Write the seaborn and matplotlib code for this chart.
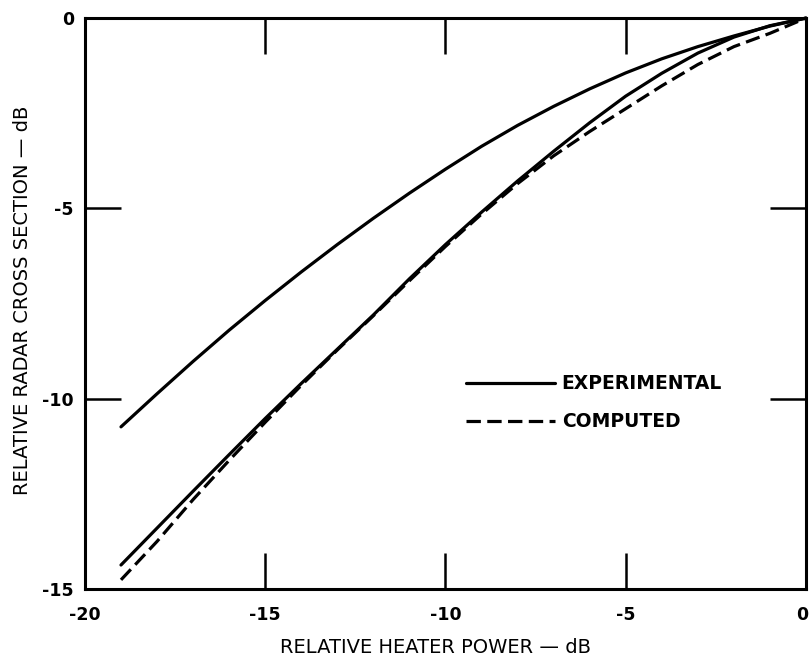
import matplotlib
matplotlib.use("Agg")
import matplotlib.pyplot as plt
import matplotlib.transforms as mtransforms
import seaborn as sns
import pandas as pd

# Relative heater power (dB)
power_db = [-19, -18, -17, -16, -15, -14, -13, -12, -11, -10,
            -9, -8, -7, -6, -5, -4, -3, -2, -1, 0]

# Experimental curve, upper branch (dB)
exp_upper = [-10.74, -9.87, -9.02, -8.20, -7.42, -6.67, -5.95, -5.26, -4.60, -3.97,
             -3.37, -2.82, -2.32, -1.86, -1.44, -1.07, -0.75, -0.47, -0.21, 0.0]

# Experimental curve, lower branch (dB)
exp_lower = [-14.37, -13.40, -12.43, -11.47, -10.52, -9.60, -8.70, -7.80, -6.85, -5.95,
             -5.10, -4.28, -3.50, -2.75, -2.05, -1.45, -0.92, -0.50, -0.20, 0.0]

# Computed curve (dB)
computed = [-14.76, -13.75, -12.65, -11.62, -10.62, -9.65, -8.72, -7.82, -6.90, -6.00,
            -5.15, -4.35, -3.62, -2.98, -2.38, -1.78, -1.22, -0.75, -0.40, 0.0]

x_ticks = [-20, -15, -10, -5, 0]
x_tick_labels = ["-20", "-15", "-10", "-5", "0"]
y_ticks = [0, -5, -10, -15]
y_tick_labels = ["0", "-5", "-10", "-15"]

df_upper = pd.DataFrame({"power": power_db, "rcs": exp_upper})
df_lower = pd.DataFrame({"power": power_db, "rcs": exp_lower})
df_comp = pd.DataFrame({"power": power_db, "rcs": computed})

sns.set_theme(style="ticks")
plt.rcParams["font.family"] = ["DejaVu Sans"]
plt.rcParams["axes.unicode_minus"] = False
plt.rcParams["text.color"] = "black"
plt.rcParams["axes.labelcolor"] = "black"

fig = plt.figure(figsize=(8.09, 6.60), dpi=100)
ax = fig.add_axes([0.105, 0.1076, 0.8913, 0.865])

lw = 2.3
sns.lineplot(data=df_upper, x="power", y="rcs", ax=ax, color="black",
             linewidth=lw, label="EXPERIMENTAL", sort=False, clip_on=False)
sns.lineplot(data=df_lower, x="power", y="rcs", ax=ax, color="black",
             linewidth=lw, label="_nolegend_", sort=False, clip_on=False)
sns.lineplot(data=df_comp, x="power", y="rcs", ax=ax, color="black",
             linewidth=lw, label="COMPUTED", sort=False, clip_on=False)
ax.lines[-1].set_dashes((4.5, 2.0))

ax.set_xlim(-20, 0)
ax.set_ylim(-15, 0)

ax.set_xticks(x_ticks)
ax.set_xticklabels(x_tick_labels, fontsize=12.5, fontweight="bold")
ax.set_yticks(y_ticks)
ax.set_yticklabels(y_tick_labels, fontsize=12.5, fontweight="bold")

ax.tick_params(axis="both", direction="in", length=26, width=1.8,
               top=True, right=True, color="black", labelcolor="black")
ax.tick_params(axis="x", pad=12)
ax.tick_params(axis="y", pad=8)

# keep the rightmost x label inside the figure
last = ax.get_xticklabels()[-1]
last.set_transform(last.get_transform() +
                   mtransforms.ScaledTranslation(-4 / 100, 0, fig.dpi_scale_trans))

for side in ["left", "right", "top", "bottom"]:
    ax.spines[side].set_visible(True)
    ax.spines[side].set_linewidth(2.2)
    ax.spines[side].set_color("black")

ax.set_xlabel("RELATIVE HEATER POWER — dB", fontsize=14, color="black")
ax.set_ylabel("RELATIVE RADAR CROSS SECTION — dB", fontsize=14, color="black")
ax.xaxis.set_label_coords(0.486, -0.085)
ax.yaxis.set_label_coords(-0.074, 0.506)

leg = ax.legend(loc="upper left", bbox_to_anchor=(0.528, 0.376), frameon=False,
                handlelength=4.75, handletextpad=0.37, labelspacing=1.0,
                borderpad=0, borderaxespad=0,
                prop={"size": 13.5, "weight": "bold"})
for t in leg.get_texts():
    t.set_color("black")

ax.grid(False)
fig.savefig("out.png", dpi=100, facecolor="white")
